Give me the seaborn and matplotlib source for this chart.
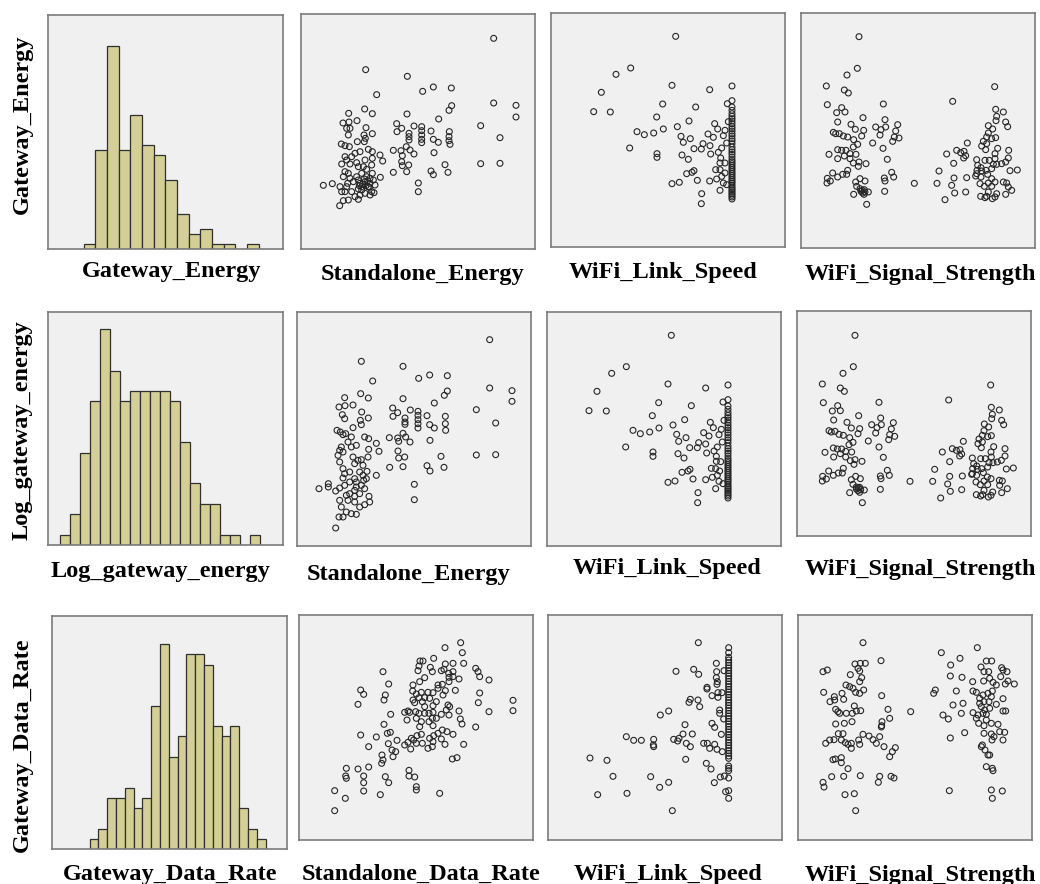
import numpy as np
import pandas as pd
import matplotlib
matplotlib.use("Agg")
import matplotlib.pyplot as plt
import seaborn as sns

sns.set_style("white")
plt.rcParams["font.family"] = ["Liberation Serif", "DejaVu Serif"]

# ---------------------------------------------------------------- histograms
# counts per bin (equal-width bins, arbitrary units on the value axis)
gateway_energy_counts = [1, 20, 41, 20, 27, 21, 19, 14, 7, 3, 4, 1, 1, 0, 1]
log_gateway_energy_counts = [1, 3, 9, 14, 21, 17, 14, 15, 15, 15, 15, 14, 10, 6, 4, 4, 1, 1, 0, 1]
gateway_data_rate_counts = [1, 2, 5, 5, 6, 4, 5, 14, 20, 9, 11, 19, 19, 18, 12, 11, 12, 4, 2, 1]

# ---------------------------------------------------------------- scatter data
# row 1: Gateway_Energy against the other variables
energy_vs_standalone = [
    (578,632),(194,538),(319,518),(227,463),(365,473),(397,486),(451,483),(452,430),(444,416),(578,438),
    (645,431),(645,396),(143,407),(191,420),(214,406),(318,405),(413,390),(126,378),(144,381),(168,385),
    (287,376),(302,362),(288,352),(339,369),(362,367),(362,355),(362,342),(362,329),(362,319),(324,347),
    (324,337),(324,327),(390,354),(397,329),(412,320),(445,352),(444,337),(444,325),(447,314),(539,370),
    (597,334),(539,256),(597,257),(137,362),(147,362),(142,342),(195,364),(214,346),(189,342),(193,332),
    (190,322),(169,322),(121,315),(132,310),(145,307),(277,296),(300,295),(316,307),(327,297),(339,285),
    (304,280),(302,262),(304,250),(323,252),(317,232),(277,230),(399,289),(432,253),(441,230),(390,234),
    (397,223),(352,198),(352,172),(237,282),(245,264),(238,215),(202,299),(214,292),(214,272),(212,252),
    (192,267),(177,292),(162,287),(152,277),(132,277),(137,267),(122,255),(147,255),(167,259),(172,247),
    (132,232),(142,227),(147,212),(127,217),(67,191),(94,196),(117,187),(132,172),(140,197),(172,207),
    (177,197),(182,187),(192,202),(197,217),(207,212),(217,207),(202,187),(212,172),(192,167),(177,162),
    (162,157),(152,172),(142,147),(127,145),(116,130),(172,149),(207,162),(219,169),(222,192),(182,227),
    (167,217),(157,202),(187,247),(197,239),(137,187),(122,172),(182,177),(207,197),(172,180),(214,227),
    (185,195),(195,190),(200,205),(190,210),(205,185),(175,190),
]
energy_vs_link_speed = [
    (374,632),(239,537),(195,518),(151,464),(128,406),(178,405),(363,485),(476,472),(543,483),(335,429),
    (434,420),(317,390),(414,378),(379,361),(337,354),(258,346),(280,337),(308,342),(236,297),(318,280),
    (318,269),(390,332),(397,314),(418,325),(429,295),(451,294),(456,310),(477,304),(471,339),(487,329),
    (491,370),(500,354),(393,276),(412,263),(479,279),(502,284),(509,267),(507,252),(522,252),(494,232),
    (507,232),(522,222),(407,220),(423,224),(429,229),(439,200),(476,198),(497,204),(512,212),(517,192),
    (507,170),(527,187),(363,190),(385,194),(452,160),(451,130),(529,430),(532,376),(522,350),(517,334),
    (527,312),(512,297),
    (543,439),(543,420),(543,410),(543,400),(543,392),(543,385),(543,378),(543,370),(543,362),(543,355),
    (543,348),(543,340),(543,333),(543,325),(543,318),(543,310),(543,300),(543,292),(543,285),(543,278),
    (543,270),(543,262),(543,256),(543,250),(543,244),(543,238),(543,232),(543,226),(543,220),(543,214),
    (543,208),(543,202),(543,197),(543,192),(543,186),(543,180),(543,175),(543,170),(543,165),(543,160),
    (543,155),(543,150),(543,144),
]
energy_vs_signal = [
    (174,634),(169,539),(138,519),(76,486),(130,474),(142,465),(79,430),(247,432),(122,421),(107,406),
    (132,408),(186,391),(110,378),(150,371),(163,356),(188,353),(182,336),(224,363),(240,355),(252,385),
    (254,363),(237,339),(290,370),(284,351),(280,333),(294,330),(275,320),(97,347),(104,343),(115,343),
    (127,336),(140,333),(158,325),(170,311),(157,303),(215,315),(246,299),(110,295),(122,293),(135,293),
    (147,283),(165,281),(84,281),(130,276),(110,268),(147,268),(157,255),(174,258),(172,245),(195,253),
    (259,266),(140,233),(137,221),(125,221),(110,213),(95,225),(79,209),(78,195),(88,201),(164,198),
    (177,208),(192,201),(167,185),(177,178),(184,173),(192,168),(202,168),(189,161),(158,161),(197,131),
    (250,210),(252,201),(251,170),(272,227),(278,213),(340,194),(408,194),(185,165),(190,175),(180,170),
    (455,440),(581,484),(584,416),(607,408),(587,395),(585,382),(614,378),(620,364),(562,367),(575,357),
    (562,345),(557,333),(584,331),(572,328),(547,320),(557,313),(542,306),(554,295),(590,299),(623,293),
    (499,315),(467,293),(479,286),(489,290),(437,282),(494,277),(488,270),(527,265),(552,263),(582,283),
    (582,268),(565,263),(622,270),(614,258),(602,253),(577,251),(587,251),(530,248),(540,241),(572,238),
    (458,254),(414,231),(459,210),(497,211),(528,233),(542,231),(555,233),(627,232),(649,234),(524,216),
    (540,213),(560,221),(572,208),(582,198),(562,195),(537,193),(550,185),(572,185),(607,198),(617,195),
    (622,183),(632,173),(614,161),(587,163),(562,168),(557,155),(539,155),(552,151),(574,148),(582,153),
    (452,188),(461,165),(494,168),(432,145),(527,223),
]

# row 2: Log_gateway_energy against the other variables
log_energy_vs_standalone = [
    (578,619),(193,554),(318,539),(227,495),(365,503),(398,513),(451,511),(451,465),(442,452),(578,474),
    (645,466),(645,434),(143,445),(191,457),(214,444),(318,442),(412,429),(126,417),(144,421),(168,423),
    (287,414),(302,400),(288,389),(340,408),(363,404),(363,392),(363,379),(363,367),(363,354),(324,384),
    (324,372),(324,365),(390,391),(398,364),(412,354),(445,389),(445,367),(446,347),(538,409),(596,369),
    (538,273),(596,274),(136,394),(143,382),(194,402),(214,384),(190,377),(193,364),(168,355),(120,347),
    (130,342),(146,337),(138,334),(277,325),(302,324),(318,338),(326,327),(339,312),(305,314),(303,285),
    (305,264),(323,267),(318,238),(278,236),(399,317),(432,269),(441,236),(390,241),(399,225),(352,185),
    (352,139),(238,308),(246,284),(238,212),(203,327),(215,322),(215,290),(213,267),(193,259),(178,302),
    (163,297),(153,312),(133,297),(128,287),(123,272),(138,282),(168,267),(173,247),(128,252),(138,232),
    (143,217),(138,204),(66,172),(94,187),(94,177),(116,165),(128,174),(143,182),(158,192),(173,202),
    (178,192),(188,222),(198,212),(210,224),(208,202),(193,182),(203,172),(173,167),(158,157),(148,152),
    (173,149),(188,157),(216,149),(218,132),(203,124),(188,117),(173,132),(153,137),(128,137),(133,117),
    (148,102),(163,97),(178,95),(138,87),(126,87),(116,54),(198,242),(183,257),(158,222),(178,177),
    (200,197),(163,327),
]
log_energy_vs_link_speed = [
    (373,632),(238,538),(194,518),(150,464),(126,406),(178,405),(363,486),(476,474),(543,483),(335,430),
    (433,421),(316,391),(413,379),(378,363),(336,354),(258,347),(280,337),(308,342),(236,297),(318,282),
    (318,269),(389,335),(395,314),(417,325),(428,295),(451,295),(455,310),(476,306),(470,340),(486,330),
    (490,371),(499,355),(393,277),(411,264),(479,279),(501,285),(508,269),(508,254),(521,253),(493,233),
    (506,232),(518,225),(405,221),(423,225),(429,230),(438,201),(476,199),(496,206),(511,212),(516,194),
    (506,172),(528,187),(363,191),(384,195),(453,160),(452,130),(528,432),(531,377),(523,350),(516,334),
    (526,312),(511,297),
    (543,439),(543,420),(543,410),(543,400),(543,392),(543,385),(543,378),(543,370),(543,362),(543,355),
    (543,348),(543,340),(543,333),(543,325),(543,318),(543,310),(543,300),(543,292),(543,285),(543,278),
    (543,270),(543,262),(543,256),(543,250),(543,244),(543,238),(543,232),(543,226),(543,220),(543,214),
    (543,208),(543,202),(543,197),(543,192),(543,186),(543,180),(543,175),(543,170),(543,165),(543,160),
    (543,155),(543,150),(543,144),
]
log_energy_vs_signal = [
    (174,602),(169,508),(138,488),(76,456),(130,444),(142,434),(79,400),(246,401),(122,391),(106,375),
    (130,376),(185,361),(110,348),(150,341),(163,324),(188,322),(183,307),(224,334),(240,325),(251,354),
    (253,334),(236,309),(289,340),(283,321),(278,304),(293,299),(275,289),(96,316),(103,312),(114,314),
    (126,305),(139,302),(158,295),(168,281),(156,274),(214,285),(246,267),(109,264),(121,261),(134,261),
    (146,254),(164,252),(84,251),(130,247),(110,237),(146,237),(160,226),(174,229),(171,215),(195,224),
    (259,236),(139,203),(136,189),(124,189),(109,182),(95,195),(77,179),(76,165),(88,171),(163,169),
    (176,179),(190,172),(168,155),(178,147),(184,144),(191,139),(202,138),(188,131),(158,130),(196,100),
    (250,180),(252,172),(250,140),(271,197),(277,182),(339,164),(407,164),(183,136),(188,146),(178,141),
    (455,408),(581,453),(583,386),(607,378),(586,365),(584,352),(614,347),(620,334),(562,336),(575,327),
    (561,316),(556,302),(583,301),(572,298),(546,291),(556,282),(543,277),(553,265),(590,268),(624,262),
    (499,284),(466,262),(478,257),(489,259),(436,252),(494,246),(488,240),(526,234),(551,232),(582,252),
    (583,237),(565,232),(624,240),(613,227),(601,222),(576,220),(588,220),(530,217),(539,210),(572,207),
    (458,223),(413,200),(458,179),(496,180),(527,202),(541,200),(554,202),(628,201),(649,204),(524,185),
    (539,182),(559,190),(571,177),(582,172),(561,165),(537,162),(550,154),(572,154),(607,167),(616,165),
    (608,152),(631,142),(614,130),(587,132),(561,137),(557,124),(538,124),(551,120),(574,117),(582,122),
    (452,156),(460,134),(494,139),(431,114),(526,187),
]

# row 3: Gateway_Data_Rate against the other variables
rate_vs_standalone = [
    (485,592),(438,577),(490,562),(404,545),(363,537),(372,537),(439,528),(462,530),(494,530),(360,522),
    (394,518),(400,505),(357,508),(427,508),(435,512),(449,500),(462,505),(530,515),(537,505),(542,490),
    (570,480),(252,505),(269,468),(342,465),(362,475),(377,487),(417,465),(430,467),(450,475),(462,490),
    (480,483),(185,450),(194,437),(259,435),(255,420),(177,407),(341,447),(352,438),(367,443),(387,443),
    (402,442),(417,455),(439,448),(469,449),(542,441),(538,412),(570,385),(642,419),(642,388),(342,420),
    (347,412),(360,427),(370,415),(377,427),(392,425),(402,403),(412,415),(447,405),(452,400),(442,390),
    (275,377),(317,383),(332,383),(350,385),(360,380),(377,380),(390,380),(402,383),(427,377),(450,375),
    (480,387),(484,363),(489,348),(530,339),(324,360),(352,365),(362,340),(390,355),(400,365),(402,343),
    (255,347),(265,320),(274,323),(185,315),(232,309),(209,280),(268,289),(294,299),(317,285),(327,293),
    (335,273),(344,300),(354,313),(352,290),(367,317),(370,290),(387,275),(392,305),(402,295),(404,313),
    (417,320),(430,330),(427,303),(438,287),(444,325),(462,317),(494,287),(460,243),(474,247),(400,280),
    (279,270),(290,265),(282,250),(249,255),(248,230),(252,240),(142,215),(177,213),(209,219),(140,192),
    (142,185),(194,192),(194,172),(259,190),(269,172),(330,209),(330,192),(347,189),(352,160),(352,150),
    (422,140),(107,148),(139,125),(194,147),(244,136),(107,88),(327,387),(337,305),(377,400),(412,365),
    (367,355),(432,435),(450,488),
]
rate_vs_link_speed = [
    (451,592),(384,506),(437,512),(452,497),(505,530),(506,505),(528,508),(505,487),(508,475),(507,467),
    (477,458),(477,453),(510,442),(522,442),(492,433),(510,428),(450,420),(427,422),(423,413),(455,400),
    (515,390),(515,380),(527,363),(337,375),(362,387),(411,346),(492,350),(500,338),(520,317),(235,310),
    (257,299),(280,299),(317,302),(316,285),(317,280),(377,302),(389,297),(393,305),(405,318),(433,318),
    (415,290),(427,280),(467,290),(478,290),(485,275),(500,287),(507,272),(523,265),(126,246),(177,239),
    (413,242),(475,230),(489,213),(195,191),(308,190),(362,173),(335,158),(499,172),(517,189),(529,192),
    (533,145),(149,136),(237,140),(373,88),
    (542,577),(542,562),(542,548),(542,540),(542,532),(542,524),(542,516),(542,508),(542,500),(542,492),
    (542,484),(542,476),(542,468),(542,460),(542,452),(542,444),(542,436),(542,428),(542,420),(542,412),
    (542,404),(542,396),(542,388),(542,380),(542,372),(542,364),(542,356),(542,348),(542,340),(542,332),
    (542,324),(542,316),(542,308),(542,300),(542,292),(542,284),(542,276),(542,268),(542,260),(542,252),
    (542,245),(542,222),(542,215),(542,208),(542,186),(542,148),(542,125),
]
rate_vs_signal = [
    (195,592),(249,538),(171,528),(187,530),(202,530),(180,515),(185,507),(75,505),(88,510),(157,496),
    (191,487),(185,475),(144,465),(155,460),(165,455),(197,450),(173,443),(185,440),(77,443),(132,440),
    (109,430),(96,415),(110,420),(137,422),(251,433),(169,402),(113,392),(120,385),(125,380),(145,380),
    (163,380),(175,387),(188,388),(270,392),(275,365),(113,348),(139,350),(162,355),(252,355),(251,343),
    (250,339),(338,385),(121,319),(135,319),(83,290),(95,300),(108,301),(130,300),(142,292),(150,287),
    (160,290),(160,275),(182,300),(185,287),(195,317),(213,312),(225,301),(235,290),(245,310),(258,280),
    (292,277),(283,265),(275,250),(105,241),(112,243),(130,247),(130,232),(150,214),(101,190),(137,191),
    (187,193),(245,191),(241,173),(279,191),(288,186),(75,173),(78,159),(141,136),(169,139),(173,88),
    (430,562),(538,577),(486,545),(458,525),(565,537),(581,537),(549,519),(558,505),(572,505),(611,517),
    (615,510),(627,505),(457,492),(492,488),(524,475),(557,477),(575,485),(585,473),(595,465),(608,490),
    (630,477),(622,468),(649,468),(412,450),(407,440),(475,447),(525,447),(535,443),(555,435),(570,440),
    (583,447),(580,430),(545,425),(615,424),(495,410),(465,405),(545,410),(558,415),(573,415),(595,407),
    (550,400),(560,390),(575,395),(615,387),(623,387),(490,380),(435,375),(451,363),(525,382),(540,375),
    (555,380),(565,377),(535,365),(565,360),(542,350),(558,343),(580,350),(600,347),(500,322),(457,306),
    (558,320),(580,318),(588,310),(605,325),(620,323),(615,300),(582,300),(553,285),(550,280),(561,270),
    (570,255),(575,255),(565,220),(583,215),(585,208),(454,148),(580,150),(613,147),(583,125),
]

# ---------------------------------------------------------------- layout
FIG_W, FIG_H = 1040, 884
fig = plt.figure(figsize=(FIG_W / 100, FIG_H / 100), dpi=100)
fig.patch.set_facecolor("white")

PANEL_BG = "#f0f0f0"
BAR_FILL = "#d3cf96"
LABEL_KW = dict(fontsize=17.5, fontweight="bold", color="black")


def add_panel(box):
    left, top, right, bottom = box
    ax = fig.add_axes([left / FIG_W, 1 - bottom / FIG_H,
                       (right - left) / FIG_W, (bottom - top) / FIG_H])
    ax.set_facecolor(PANEL_BG)
    for side, spine in ax.spines.items():
        spine.set_color("#7c7c7c")
        spine.set_linewidth(1.2)
    return ax


def finish(ax):
    ax.set_xticks([])
    ax.set_yticks([])
    ax.set_xlabel("")
    ax.set_ylabel("")


def hist_panel(box, counts, name, first_edge, bin_px, top_count):
    """Histogram from per-bin counts; bin_px is the bin width in 1/3-pixel units."""
    left, top, right, bottom = box
    ax = add_panel(box)
    edges = [first_edge + k for k in range(len(counts) + 1)]
    centers = [e + 0.5 for e in edges[:-1]]
    df = pd.DataFrame({name: centers, "n": counts})
    sns.histplot(data=df, x=name, weights="n", bins=edges, ax=ax,
                 color=BAR_FILL, edgecolor="#303030", linewidth=0.9, alpha=1.0)
    ax.set_xlim(0, (right - left) * 3 / bin_px)
    ax.set_ylim(0, top_count)
    finish(ax)
    return ax


def scatter_panel(box, pts, xname, yname):
    left, top, right, bottom = box
    ax = add_panel(box)
    df = pd.DataFrame(pts, columns=[xname, yname])
    sns.scatterplot(data=df, x=xname, y=yname, ax=ax, marker="o", s=18,
                    facecolor="none", edgecolor="#262626", linewidth=0.8)
    for coll in ax.collections:
        coll.set_facecolor("none")
    ax.set_xlim(0, (right - left) * 3)
    ax.set_ylim(0, (bottom - top) * 3)
    finish(ax)
    return ax


# row 1
hist_panel((48, 15, 283, 249), gateway_energy_counts, "Gateway_Energy", 3.06, 35, 47.3)
scatter_panel((301, 14, 535, 249), energy_vs_standalone, "Standalone_Energy", "Gateway_Energy")
scatter_panel((551, 13, 785, 247), energy_vs_link_speed, "WiFi_Link_Speed", "Gateway_Energy")
scatter_panel((801, 13, 1035, 248), energy_vs_signal, "WiFi_Signal_Strength", "Gateway_Energy")

# row 2
hist_panel((48, 312, 283, 545), log_gateway_energy_counts, "Log_gateway_energy", 1.23, 30, 22.7)
scatter_panel((297, 312, 531, 546), log_energy_vs_standalone, "Standalone_Energy", "Log_gateway_energy")
scatter_panel((547, 312, 781, 546), log_energy_vs_link_speed, "WiFi_Link_Speed", "Log_gateway_energy")
scatter_panel((797, 311, 1031, 536), log_energy_vs_signal, "WiFi_Signal_Strength", "Log_gateway_energy")

# row 3
hist_panel((52, 616, 287, 849), gateway_data_rate_counts, "Gateway_Data_Rate", 4.28, 26.4, 22.76)
scatter_panel((299, 615, 533, 840), rate_vs_standalone, "Standalone_Data_Rate", "Gateway_Data_Rate")
scatter_panel((548, 615, 782, 840), rate_vs_link_speed, "WiFi_Link_Speed", "Gateway_Data_Rate")
scatter_panel((798, 615, 1032, 840), rate_vs_signal, "WiFi_Signal_Strength", "Gateway_Data_Rate")

# ---------------------------------------------------------------- labels
x_labels = [
    (172, 277, "Gateway_Energy"), (422, 280, "Standalone_Energy"),
    (663, 278, "WiFi_Link_Speed"), (920, 280, "WiFi_Signal_Strength"),
    (160, 577, "Log_gateway_energy"), (409, 580, "Standalone_Energy"),
    (667, 574, "WiFi_Link_Speed"), (920, 575, "WiFi_Signal_Strength"),
    (170, 880, "Gateway_Data_Rate"), (421, 880, "Standalone_Data_Rate"),
    (668, 880, "WiFi_Link_Speed"), (920, 881, "WiFi_Signal_Strength"),
]
for px, py, text in x_labels:
    fig.text(px / FIG_W, 1 - py / FIG_H, text, ha="center", va="baseline", **LABEL_KW)

y_labels = [(22, 124, "Gateway_Energy"), (22, 430, "Log_gateway_energy"),
            (22, 745, "Gateway_Data_Rate")]
for px, py, text in y_labels:
    fig.text(px / FIG_W, 1 - py / FIG_H, text, ha="center", va="center",
             rotation=90, **LABEL_KW)

fig.savefig("out.png", dpi=100, facecolor="white")
